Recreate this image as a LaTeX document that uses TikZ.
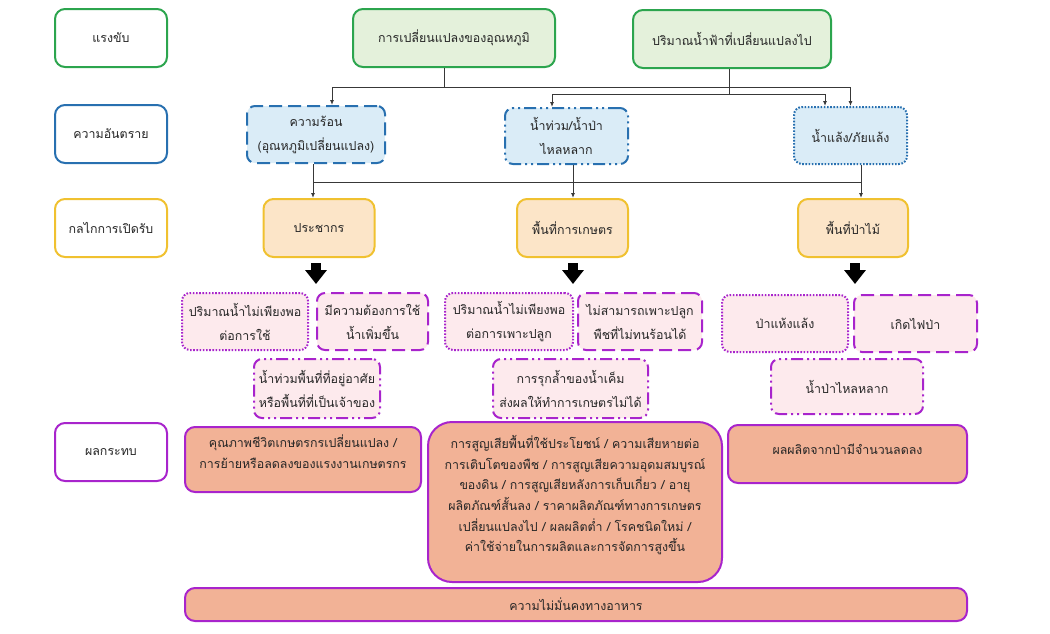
\documentclass[tikz,border=0pt]{standalone}
\usepackage{fontspec}
\setmainfont[Script=Thai]{Loma}
\usetikzlibrary{arrows.meta}

\definecolor{grnB}{RGB}{44,165,78}
\definecolor{grnF}{RGB}{228,241,219}
\definecolor{bluB}{RGB}{40,112,176}
\definecolor{bluF}{RGB}{218,236,247}
\definecolor{ylwB}{RGB}{240,193,48}
\definecolor{ylwF}{RGB}{252,229,200}
\definecolor{prpB}{RGB}{168,36,204}
\definecolor{pnkF}{RGB}{253,234,237}
\definecolor{slmF}{RGB}{242,178,150}
\definecolor{lnk}{RGB}{56,56,56}

\tikzset{
  box/.style={draw, rounded corners=8pt, line width=2pt, align=center, inner sep=2pt,
    text=black!85, font=\fontsize{12.4}{24}\selectfont},
  lbl/.style={box, fill=white, rounded corners=10pt, minimum width=112pt, minimum height=58pt},
  drv/.style={box, draw=grnB, fill=grnF, rounded corners=10pt},
  haz/.style={box, draw=bluB, fill=bluF},
  exps/.style={box, draw=ylwB, fill=ylwF, rounded corners=10pt, minimum width=111pt, minimum height=58pt},
  eff/.style={box, draw=prpB, fill=pnkF, minimum height=57pt},
  imp/.style={box, draw=prpB, fill=slmF, rounded corners=10pt, font=\fontsize{12.4}{20.7}\selectfont},
  dotln/.style={dash pattern=on 1.6pt off 1.6pt},
  dashln/.style={dash pattern=on 13pt off 6pt},
  ddline/.style={dash pattern=on 12pt off 4pt on 2pt off 4pt on 2pt off 4pt},
  link/.style={draw=lnk, line width=0.9pt},
  arr/.style={link, -{Latex[length=5pt,width=4pt]}},
  fatarr/.style={draw=black, line width=10pt, -{Triangle[length=14pt,width=21pt]}}
}

\begin{document}
\begin{tikzpicture}[x=1pt, y=-1pt]
  \useasboundingbox (0,0) rectangle (1050,633);

  % row labels
  \node[lbl, draw=grnB] (drvL) at (111,38) {แรงขับ};
  \node[lbl, draw=bluB] (hazL) at (111,134) {ความอันตราย};
  \node[lbl, draw=ylwB] (expL) at (111,228) {กลไกการเปิดรับ};
  \node[lbl, draw=prpB] (impL) at (111,452) {ผลกระทบ};

  % drivers
  \node[drv, minimum width=202pt, minimum height=58pt] (temp) at (454,38) {การเปลี่ยนแปลงของอุณหภูมิ};
  \node[drv, minimum width=198pt, minimum height=58pt] (rain) at (732,39) {ปริมาณน้ำฟ้าที่เปลี่ยนแปลงไป};

  % hazards
  \node[haz, dashln, minimum width=138pt, minimum height=57pt] (heat) at (316,134.5) {ความร้อน\\(อุณหภูมิเปลี่ยนแปลง)};
  \node[haz, ddline, minimum width=123pt, minimum height=56pt] (flood) at (566.5,136) {น้ำท่วม/น้ำป่า\\ไหลหลาก};
  \node[haz, dotln, minimum width=113pt, minimum height=57pt] (drought) at (850.5,135.5) {น้ำแล้ง/ภัยแล้ง};

  % exposure
  \node[exps] (pop) at (319,228) {ประชากร};
  \node[exps] (agri) at (572.5,228) {พื้นที่การเกษตร};
  \node[exps, minimum width=110pt] (forest) at (853,228) {พื้นที่ป่าไม้};

  \coordinate (popA) at (316,263);
  \coordinate (agriA) at (573,263);
  \coordinate (forA) at (855,263);
  \draw[fatarr] (popA) -- ++(0,21);
  \draw[fatarr] (agriA) -- ++(0,21);
  \draw[fatarr] (forA) -- ++(0,21);

  % effects
  \node[eff, dotln, minimum width=126pt] (popW) at (245,321.5) {ปริมาณน้ำไม่เพียงพอ\\ต่อการใช้};
  \node[eff, dashln, minimum width=111pt] (popD) at (372.5,321.5) {มีความต้องการใช้\\น้ำเพิ่มขึ้น};
  \node[eff, ddline, minimum width=126pt, minimum height=59pt] (popF) at (317,388.5) {น้ำท่วมพื้นที่ที่อยู่อาศัย\\หรือพื้นที่ที่เป็นเจ้าของ};
  \node[eff, dotln, minimum width=128pt] (agW) at (509,321.5) {ปริมาณน้ำไม่เพียงพอ\\ต่อการเพาะปลูก};
  \node[eff, dashln, minimum width=124pt] (agH) at (640,321.5) {ไม่สามารถเพาะปลูก\\พืชที่ไม่ทนร้อนได้};
  \node[eff, ddline, minimum width=155pt, minimum height=59pt] (agS) at (570.5,388.5) {การรุกล้ำของน้ำเค็ม\\ส่งผลให้ทำการเกษตรไม่ได้};
  \node[eff, dotln, minimum width=126pt] (foD) at (785,323.5) {ป่าแห้งแล้ง};
  \node[eff, dashln, minimum width=123pt] (foF) at (915.5,323.5) {เกิดไฟป่า};
  \node[eff, ddline, minimum width=152pt, minimum height=55pt] (foR) at (847,386.5) {น้ำป่าไหลหลาก};

  % impacts
  \node[imp, text depth=16pt, minimum width=236pt, minimum height=65pt] (impP) at (303,459.5) {คุณภาพชีวิตเกษตรกรเปลี่ยนแปลง /\\การย้ายหรือลดลงของแรงงานเกษตรกร};
  \node[imp, text depth=17pt, rounded corners=24pt, minimum width=294pt, minimum height=160pt] (impA) at (575,502) {การสูญเสียพื้นที่ใช้ประโยชน์ / ความเสียหายต่อ\\การเติบโตของพืช / การสูญเสียความอุดมสมบูรณ์\\ของดิน / การสูญเสียหลังการเก็บเกี่ยว / อายุ\\ผลิตภัณฑ์สั้นลง / ราคาผลิตภัณฑ์ทางการเกษตร\\เปลี่ยนแปลงไป / ผลผลิตต่ำ / โรคชนิดใหม่ /\\ค่าใช้จ่ายในการผลิตและการจัดการสูงขึ้น};
  \node[imp, text depth=9pt, minimum width=239pt, minimum height=58pt] (impF) at (847.5,454) {ผลผลิตจากป่ามีจำนวนลดลง};
  \node[imp, minimum width=782pt, minimum height=33pt] (food) at (576,604.5) {ความไม่มั่นคงทางอาหาร};

  % connectors
  \draw[link] ([xshift=-10]temp.south) -- ++(0,19) coordinate (tJ);
  \draw[arr] (tJ) -| ([xshift=16]heat.north);
  \draw[arr] (tJ) -| (drought.north);
  \draw[link] ([xshift=-3]rain.south) -- ++(0,25) coordinate (rJ);
  \draw[arr] (rJ) -| ([xshift=-14.5]flood.north);
  \draw[arr] (rJ) -| ([xshift=-25.5]drought.north);

  \coordinate (busL) at (313,182);
  \coordinate (busR) at (861,182);
  \draw[link] (busL) -- (busR);
  \draw[arr] ([xshift=-3]heat.south) -- ([xshift=-6]pop.north);
  \draw[arr] ([xshift=6.5]flood.south) -- ([xshift=0.5]agri.north);
  \draw[arr] ([xshift=10.5]drought.south) -- ([xshift=8]forest.north);
\end{tikzpicture}
\end{document}
